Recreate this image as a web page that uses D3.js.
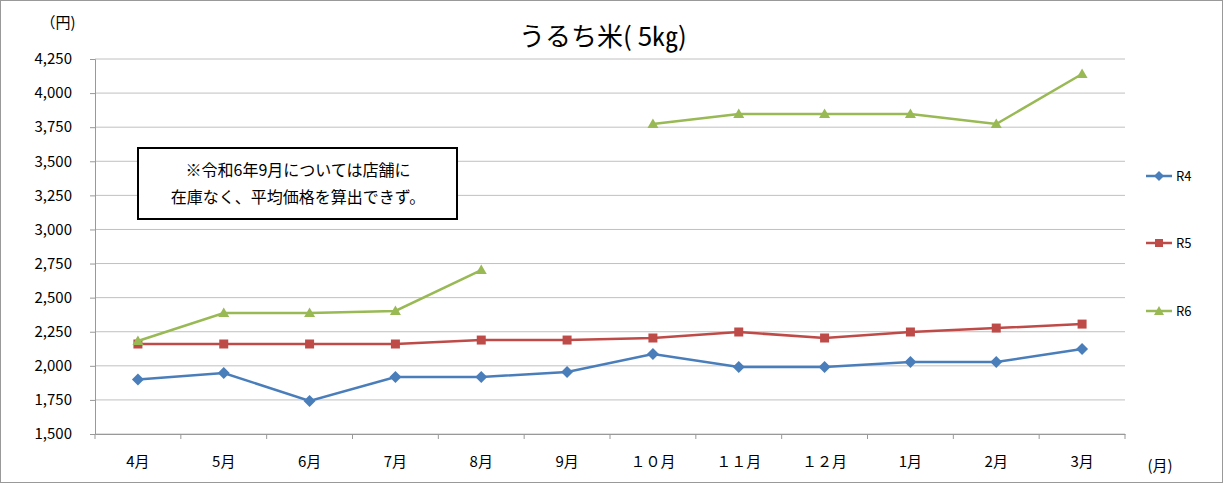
<!DOCTYPE html>
<html><head><meta charset="utf-8">
<script src="https://cdn.jsdelivr.net/npm/d3@7"></script>
<style>body{margin:0;background:#fff}text{font-family:"Noto Sans CJK JP","Noto Sans",sans-serif}</style>
</head><body><svg id="c" width="1224" height="484"></svg>
<script>
const categories=["4月","5月","6月","7月","8月","9月","１０月","１１月","１２月","1月","2月","3月"];
const r4=[1900,1947,1742,1918,1918,1955,2087,1991,1991,2028,2028,2123];
const r5=[2160,2160,2160,2160,2189,2189,2204,2248,2204,2248,2277,2306];
const r6=[2182,2387,2387,2402,2702,null,3773,3846,3846,3846,3773,4140];
const yTicks=[1500,1750,2000,2250,2500,2750,3000,3250,3500,3750,4000,4250];
const seriesNames=["R4","R5","R6"];
const colors=["#4a7ebb","#be4b48","#98b954"];

const svg=d3.select("#c");
svg.append("rect").attr("x",0.5).attr("y",0.5).attr("width",1222).attr("height",482).attr("fill","#fff").attr("stroke","#999");
const L=95,R=1125,T=59,B=434;
const x=d3.scaleBand().domain(categories).range([L,R]);
const y=d3.scaleLinear().domain([1500,4250]).range([B,T]);
svg.append("g").selectAll("line").data(yTicks).join("line")
 .attr("x1",L).attr("x2",R).attr("y1",d=>y(d)).attr("y2",d=>y(d)).attr("stroke","#c0c0c0");
const ya=svg.append("g").attr("transform",`translate(${L},0)`).call(d3.axisLeft(y).tickValues(yTicks).tickFormat(d3.format(",")).tickSize(5).tickPadding(18));
ya.select(".domain").attr("stroke","#999");ya.selectAll("line").attr("stroke","#999");
ya.selectAll("text").attr("font-size",15).attr("fill","#000").attr("font-family","Liberation Sans, Arial");
const xa=svg.append("g").attr("transform",`translate(0,${B})`).call(d3.axisBottom(x).tickSize(0).tickPadding(22));
xa.select(".domain").attr("stroke","#999");xa.selectAll("text").attr("font-size",15).attr("fill","#000");
svg.append("g").selectAll("line").data(d3.range(13)).join("line")
 .attr("x1",i=>L+i*x.step()).attr("x2",i=>L+i*x.step()).attr("y1",B).attr("y2",B+5).attr("stroke","#999");
svg.append("text").attr("x",603).attr("y",46).attr("text-anchor","middle").attr("font-size",26).text("うるち米( 5㎏)");
svg.append("text").attr("x",58).attr("y",28).attr("text-anchor","middle").attr("font-size",15).text("（円)");
svg.append("text").attr("x",1160).attr("y",471).attr("text-anchor","middle").attr("font-size",15).text("(月)");
const data=[r4,r5,r6];
const cx=(i)=>x(categories[i])+x.bandwidth()/2;
data.forEach((s,k)=>{
 const line=d3.line().defined(d=>d!=null).x((d,i)=>cx(i)).y(d=>y(d));
 svg.append("path").attr("d",line(s)).attr("fill","none").attr("stroke",colors[k]).attr("stroke-width",2.5);
 const pts=s.map((v,i)=>({v,i})).filter(d=>d.v!=null);
 const g=svg.append("g").selectAll("path").data(pts).join("path")
  .attr("transform",d=>`translate(${cx(d.i)},${y(d.v)})`).attr("fill",colors[k])
  .attr("d",k==0?"M0,-6L6,0L0,6L-6,0Z":k==1?"M-4.5,-4.5H4.5V4.5H-4.5Z":"M0,-5.5L5.5,4L-5.5,4Z");
 const ly=[176,243,311][k];
 svg.append("line").attr("x1",1146).attr("x2",1172).attr("y1",ly).attr("y2",ly).attr("stroke",colors[k]).attr("stroke-width",2.5);
 svg.append("path").attr("transform",`translate(1159,${ly})`).attr("fill",colors[k])
  .attr("d",k==0?"M0,-5L5,0L0,5L-5,0Z":k==1?"M-4,-4H4V4H-4Z":"M0,-5L5,4L-5,4Z");
 svg.append("text").attr("x",1176).attr("y",ly+5).attr("font-size",13).attr("font-family","Liberation Sans, Arial").text(seriesNames[k]);
});
svg.append("rect").attr("x",138).attr("y",148).attr("width",319).attr("height",71).attr("fill","#fff").attr("stroke","#000").attr("stroke-width",2);
svg.append("text").attr("x",298).attr("y",176).attr("text-anchor","middle").attr("font-size",16).text("※令和6年9月については店舗に");
svg.append("text").attr("x",298).attr("y",203).attr("text-anchor","middle").attr("font-size",16).text("在庫なく、平均価格を算出できず。");
</script></body></html>
